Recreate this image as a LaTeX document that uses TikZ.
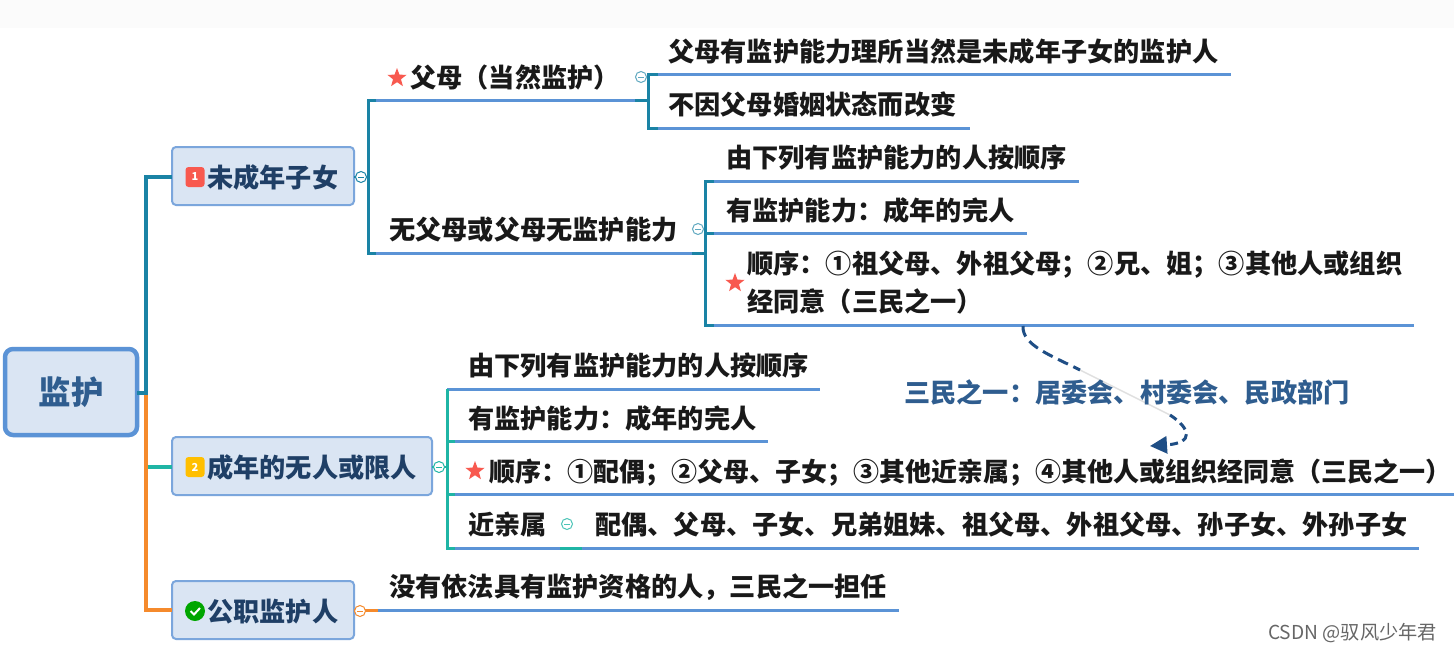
\documentclass[tikz,border=0pt]{standalone}
\usepackage{fontspec}
\setmainfont{Noto Sans CJK SC}
\usetikzlibrary{shapes.geometric,arrows.meta}
\definecolor{rootfill}{HTML}{DAE5F3}
\definecolor{rootline}{HTML}{5B93D6}
\definecolor{subline}{HTML}{7BA6DC}
\definecolor{subtext}{HTML}{1F3F66}
\definecolor{roottext}{HTML}{2F5D8F}
\definecolor{teal1}{HTML}{1A83A5}
\definecolor{teal2}{HTML}{1FB5A5}
\definecolor{orange1}{HTML}{F58A2C}
\definecolor{under}{HTML}{5B93D6}
\definecolor{starred}{HTML}{F8594F}
\definecolor{dashblue}{HTML}{1F4E85}
\tikzset{
  leaf/.style={anchor=west,inner sep=0pt,text height=23.7pt,text depth=2.4pt,text=black!90,font=\fontsize{26.2}{30}\selectfont\bfseries},
  subnode/.style={anchor=west,inner sep=0pt,text height=23.7pt,text depth=2.4pt,text=subtext,font=\fontsize{26.2}{30}\selectfont\bfseries},
  subbox/.style={draw=subline,fill=rootfill,line width=2pt,rounded corners=4pt,inner sep=0pt,outer sep=0pt,anchor=north west},
  rootbox/.style={draw=rootline,fill=rootfill,line width=4.5pt,rounded corners=8pt,inner sep=0pt,outer sep=0pt,anchor=north west,text=roottext,font=\fontsize{32.5}{36}\selectfont\bfseries,align=center},
  underline/.style={draw=under,line width=3pt},
  tealA/.style={draw=teal1,line width=3.2pt},
  tealB/.style={draw=teal2,line width=3.2pt},
  orangeA/.style={draw=orange1,line width=3.2pt},
  collapse/.style={circle,draw=#1,fill=white,line width=1pt,minimum size=11pt,inner sep=0pt,
    path picture={\draw[#1,line width=.8pt] ([xshift=-3pt]path picture bounding box.center)--([xshift=3pt]path picture bounding box.center);}},
  starmark/.style={star,star points=5,star point ratio=2.4,fill=starred,inner sep=0pt,minimum size=20pt},
  iconbox/.style={rounded corners=3pt,minimum width=19pt,minimum height=20pt,inner sep=0pt,text=white,font=\fontsize{11}{12}\selectfont\bfseries}
}
\begin{document}
\begin{tikzpicture}[x=1pt,y=-1pt]
\useasboundingbox[fill=white] (0,0) rectangle (1454,653);
\fill[black!1.5] (0,0) rectangle (1454,28);

% coordinates
\coordinate (rootj) at (146,393);
\coordinate (topj) at (146,177);
\coordinate (botj) at (146,610);
\coordinate (midj) at (148,467);

\coordinate (a0) at (368,100); \coordinate (a1) at (648,100);
\coordinate (a2) at (368,253); \coordinate (a3) at (705,253);
\coordinate (a4) at (368,177);
\coordinate (a5) at (376,100); \coordinate (a6) at (376,253);
\coordinate (a7) at (635,100); \coordinate (a8) at (692,253);

\coordinate (b0) at (648,74); \coordinate (b1) at (1231,74);
\coordinate (b2) at (648,128); \coordinate (b3) at (970,128);
\coordinate (b4) at (658,74); \coordinate (b5) at (658,128);

\coordinate (c0) at (705,181); \coordinate (c1) at (1079,181);
\coordinate (c2) at (705,233); \coordinate (c3) at (1027,233);
\coordinate (c4) at (705,325); \coordinate (c5) at (1414,325);
\coordinate (c6) at (714,181); \coordinate (c7) at (714,233); \coordinate (c8) at (714,325);

\coordinate (d0) at (447,389); \coordinate (d1) at (820,389);
\coordinate (d2) at (447,441); \coordinate (d3) at (768,441);
\coordinate (d4) at (447,494); \coordinate (d5) at (1454,494);
\coordinate (d6) at (447,548); \coordinate (d7) at (1419,548);
\coordinate (d8) at (447,467);
\coordinate (d9) at (455,441); \coordinate (d10) at (455,494); \coordinate (d11) at (455,548);
\coordinate (d12) at (560,548); \coordinate (d13) at (582,548);
\coordinate (e0) at (378,610); \coordinate (e1) at (899,610);

% boxes
\node[rootbox,minimum width=132pt,minimum height=86pt] (root) at (5,349) {监护};
\node[subbox,minimum width=182pt,minimum height=58pt] (s1) at (172,147) {};
\node[subbox,minimum width=260pt,minimum height=58pt] (s2) at (172,437) {};
\node[subbox,minimum width=182pt,minimum height=58pt] (s3) at (172,581) {};

% main branches
\draw[orangeA] (rootj) -- (botj) -- (s3.west |- botj);
\draw[tealA] (root.east |- rootj) -- (rootj) -- (topj) -- (s1.west |- topj);
\draw[tealB] (midj) -- (s2.west |- midj);

% first level branch lines
\draw[underline] (a0) -- (a1);
\draw[underline] (a2) -- (a3);
\draw[teal1,line width=3pt] (a5) -- (a0) -- (a2) -- (a6);
\draw[teal1,line width=3pt] (a7) -- (a1);
\draw[teal1,line width=3pt] (a8) -- (a3);
\draw[teal1,line width=2pt] (s1.east |- a4) -- (a4);
\draw[underline] (b0) -- (b1);
\draw[underline] (b2) -- (b3);
\draw[teal1,line width=3pt] (b4) -- (b0) -- (b2) -- (b5);
\draw[underline] (c0) -- (c1);
\draw[underline] (c2) -- (c3);
\draw[underline] (c4) -- (c5);
\draw[teal1,line width=3pt] (c6) -- (c0) -- (c4) -- (c8);
\draw[teal1,line width=3pt] (c2) -- (c7);
\draw[underline] (d0) -- (d1);
\draw[underline] (d2) -- (d3);
\draw[underline] (d4) -- (d5);
\draw[underline] (d6) -- (d7);
\draw[teal2,line width=3pt] (d0) -- (d6) -- (d11);
\draw[teal2,line width=3pt] (d2) -- (d9);
\draw[teal2,line width=3pt] (d4) -- (d10);
\draw[teal2,line width=3pt] (d12) -- (d13);
\draw[teal2,line width=2pt] (s2.east |- d8) -- (d8);
\draw[underline] (e0) -- (e1);
\draw[orange1,line width=3pt] (s3.east |- e0) -- (e0);

% collapse marks
\node[collapse=teal1] (k1) at (361,177) {};
\node[collapse=teal1!70] (k2) at (641,77) {};
\node[collapse=teal1!70] (k3) at (698,229) {};
\node[collapse=teal2] (k4) at (439,467) {};
\node[collapse=teal2!80] (k5) at (567,524) {};
\node[collapse=orange1] (k6) at (360,611) {};

% icons
\node[iconbox,fill=starred] (i1) at (195,177) {1};
\node[iconbox,fill=orange!50!yellow] (i2) at (195,467) {2};
\node[circle,fill=green!65!black,minimum size=20pt,inner sep=0pt] (i3) at (195,611) {};
\draw[white,line width=2pt] ([shift={(-4.5,0)}]i3.center) -- ([shift={(-1,3.5)}]i3.center) -- ([shift={(5,-3)}]i3.center);

% subtopic text
\node[subnode] (t1) at (207,177) {未成年子女};
\node[subnode] (t2) at (207,467) {成年的无人或限人};
\node[subnode] (t3) at (207,611) {公职监护人};

% stars
\node[starmark] (st1) at (397,78) {};
\node[starmark] (st2) at (735,283) {};
\node[starmark] (st3) at (475,471) {};

% leaves
\node[leaf] (l1) at (410,77) {父母（当然监护）};
\node[leaf] (l2) at (389,229) {无父母或父母无监护能力};
\node[leaf] (l3) at (668,51) {父母有监护能力理所当然是未成年子女的监护人};
\node[leaf] (l4) at (668,104) {不因父母婚姻状态而改变};
\node[leaf] (l5) at (726,157) {由下列有监护能力的人按顺序};
\node[leaf] (l6) at (726,210) {有监护能力：成年的完人};
\node[leaf] (l7) at (747,263) {顺序：①祖父母、外祖父母；②兄、姐；③其他人或组织};
\node[leaf] (l8) at (747,301) {经同意（三民之一）};
\node[leaf] (l9) at (468,365) {由下列有监护能力的人按顺序};
\node[leaf] (l10) at (468,418) {有监护能力：成年的完人};
\node[leaf,font=\fontsize{26}{30}\selectfont\bfseries] (l11) at (489,471) {顺序：①配偶；②父母、子女；③其他近亲属；④其他人或组织经同意（三民之一）};
\node[leaf] (l12) at (468,524) {近亲属};
\node[leaf] (l13) at (595,524) {配偶、父母、子女、兄弟姐妹、祖父母、外祖父母、孙子女、外孙子女};
\node[leaf] (l14) at (389,586) {没有依法具有监护资格的人，三民之一担任};

% dashed callout
\coordinate (f0) at (1023,326);
\coordinate (f1) at (1080,370);
\coordinate (f2) at (1170,415);
\coordinate (f3) at (1150,446);
\draw[black!12,line width=1.5pt] (f1) -- (f2);
\draw[dashblue,line width=3pt,dash pattern=on 11pt off 6pt] (f0) .. controls (1022,345) and (1050,355) .. (f1);
\draw[dashblue,line width=3pt,dash pattern=on 8pt off 5pt,-{Triangle[length=17pt,width=17pt]}] (f2) .. controls (1190,428) and (1195,443) .. (f3);
\node[leaf,text=roottext] (note) at (904,392) {三民之一：居委会、村委会、民政部门};

% watermark
\node[anchor=east,inner sep=0pt,text=black!60,font=\fontsize{19.2}{21}\selectfont] (wm) at (1437,633) {CSDN @驭风少年君};
\end{tikzpicture}
\end{document}
